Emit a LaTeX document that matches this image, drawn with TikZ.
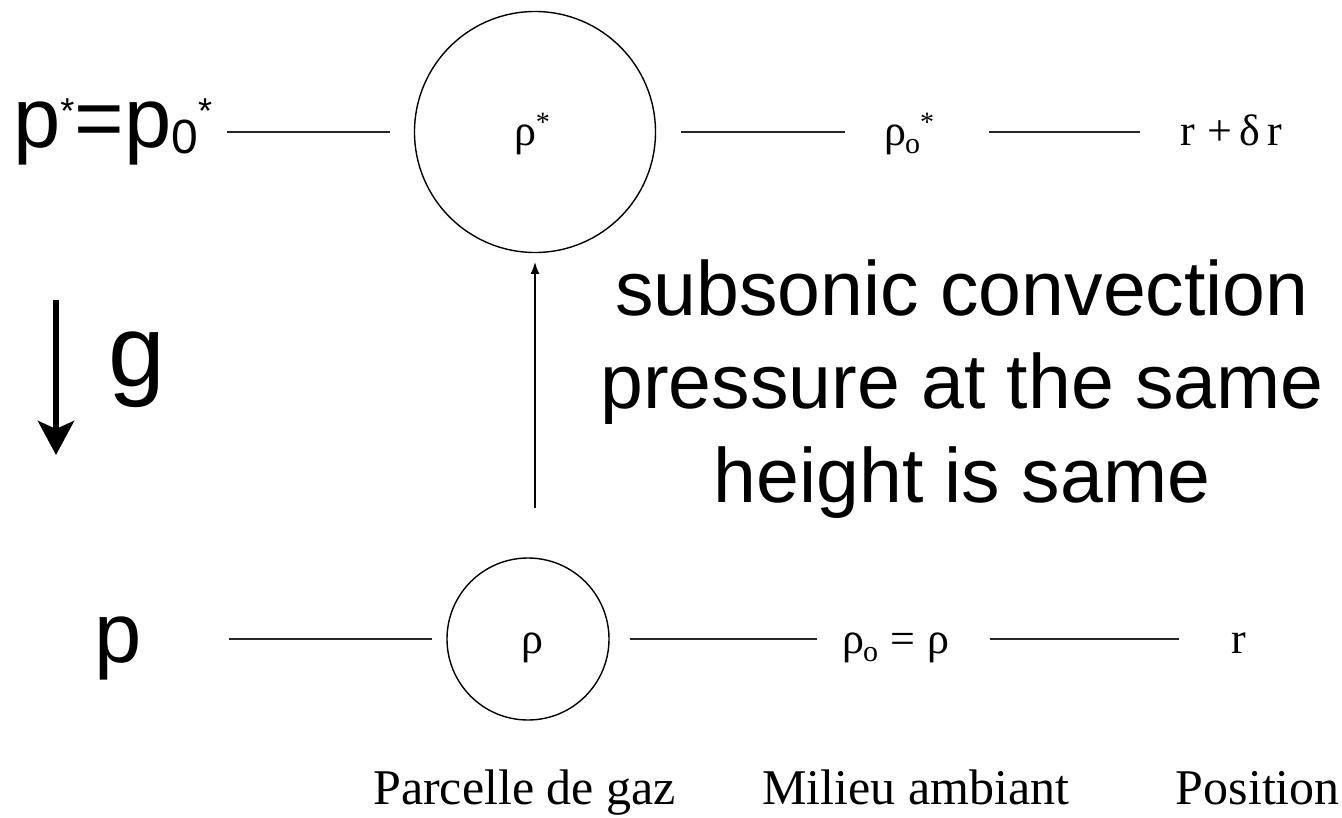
\documentclass[tikz,border=0pt]{standalone}
\usepackage{fontspec}
\setmainfont{Liberation Serif}
\newfontfamily\hv{Liberation Sans}
\usetikzlibrary{arrows.meta}
\newcommand{\fsz}[1]{\fontsize{#1}{#1}\selectfont}
\newcommand{\rhosub}{ρ\kern-1pt\raisebox{-8pt}{\fsz{30}o}}
\tikzset{
  hline/.style={line width=1.8pt, black!85},
  circ/.style={circle, draw, line width=1.4pt, inner sep=0pt},
  sym/.style={font=\fsz{44}, inner sep=0pt, anchor=base},
  lab/.style={font=\fsz{50}, inner sep=0pt, anchor=base west},
  big/.style={font=\hv\fsz{77}, inner sep=0pt, anchor=base},
}
\begin{document}
\begin{tikzpicture}[x=1pt,y=-1pt]
\useasboundingbox (0,0) rectangle (1342,818);
% top row
\node[inner sep=0pt, anchor=base west, font=\hv\fsz{85}] (pt) at (13,148)
  {p\raisebox{24pt}{\fsz{36}*}=p\raisebox{-6pt}{\fsz{48}0}\raisebox{24pt}{\fsz{36}*}};
\node[circ, minimum size=241pt] (C1) at (535,132) {};
\node[sym] (rs) at (532,146) {ρ\raisebox{14pt}{\fsz{28}*}};
\node[sym, anchor=base west] (r0s) at (884,146) {\rhosub\raisebox{14pt}{\fsz{28}*}};
\node[sym, anchor=base west] (rdr) at (1180,146) {r\;+\,δ\,r};
\coordinate (t1a) at (227,132); \coordinate (t1b) at (390,132);
\coordinate (t2a) at (681,132); \coordinate (t2b) at (845,132);
\coordinate (t3a) at (989,132); \coordinate (t3b) at (1140,132);
\draw[hline] (t1a) -- (t1b);
\draw[hline] (t2a) -- (t2b);
\draw[hline] (t3a) -- (t3b);
% gravity
\coordinate (g1) at (56,300); \coordinate (g2) at (56,455);
\draw[line width=6pt, -{Stealth[length=34pt, width=36pt, inset=8pt]}] (g1) -- (g2);
\node[inner sep=0pt, anchor=base west, font=\hv\fsz{102}] (g) at (108,387) {g};
% rising arrow
\node[circ, minimum size=162pt] (C2) at (528,639) {};
\coordinate (a1) at (535,508); \coordinate (a2) at (535,262);
\draw[line width=1.6pt, -{Latex[length=12pt, width=9pt]}] (a1) -- (a2);
% big text
\node[big] (l1) at (962,316) {subsonic convection};
\node[big] (l2) at (962,409) {pressure at the same};
\node[big] (l3) at (962,502) {height is same};
% bottom row
\node[inner sep=0pt, anchor=base west, font=\hv\fsz{85}] (pb) at (94,662) {p};
\node[sym] (rb) at (532,653) {ρ};
\node[sym, anchor=base west] (r0b) at (842,653) {\rhosub\;=\;ρ};
\node[sym, anchor=base west] (rr) at (1231,653) {r};
\coordinate (b1a) at (229,639); \coordinate (b1b) at (432,639);
\coordinate (b2a) at (630,639); \coordinate (b2b) at (817,639);
\coordinate (b3a) at (990,639); \coordinate (b3b) at (1179,639);
\draw[hline] (b1a) -- (b1b);
\draw[hline] (b2a) -- (b2b);
\draw[hline] (b3a) -- (b3b);
% labels
\node[lab] (L1) at (373,804) {Parcelle de gaz};
\node[lab] (L2) at (762,804) {Milieu ambiant};
\node[lab, anchor=base east] (L3) at (1340,804) {Position};
\end{tikzpicture}
\end{document}
